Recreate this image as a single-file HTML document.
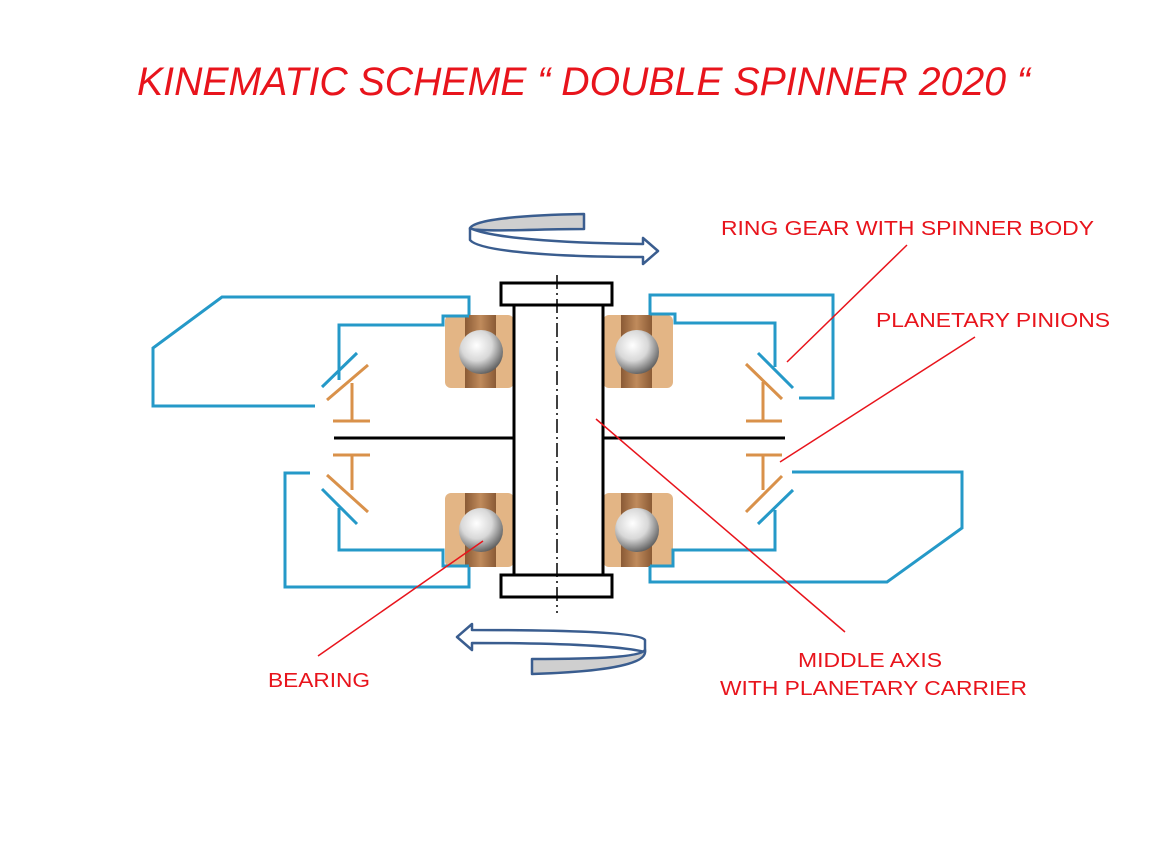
<!DOCTYPE html>
<html><head><meta charset="utf-8"><style>
html,body{margin:0;padding:0;background:#fff;}
svg{display:block;}
text{font-family:"Liberation Sans",sans-serif;fill:#e8141c;}
</style></head><body>
<svg width="1161" height="842" viewBox="0 0 1161 842" xmlns="http://www.w3.org/2000/svg">
<defs>
<radialGradient id="ball" cx="0.4" cy="0.35" r="0.7">
<stop offset="0" stop-color="#ffffff"/><stop offset="0.5" stop-color="#d8d8d8"/><stop offset="1" stop-color="#555"/>
</radialGradient>
<linearGradient id="band" x1="0" x2="1" y1="0" y2="0">
<stop offset="0" stop-color="#8a5a35"/><stop offset="0.5" stop-color="#c08b5c"/><stop offset="1" stop-color="#8a5a35"/>
</linearGradient>
</defs>
<text x="137" y="95" font-size="40" font-style="italic" textLength="893" lengthAdjust="spacingAndGlyphs">KINEMATIC SCHEME “ DOUBLE SPINNER 2020 “</text>

<g>
<rect x="445" y="315" width="69" height="73" rx="6" fill="#e3b585"/>
<rect x="465" y="315" width="31" height="73" fill="url(#band)"/>
<circle cx="481" cy="352" r="22" fill="url(#ball)"/>
<rect x="445" y="493" width="69" height="74" rx="6" fill="#e3b585"/>
<rect x="465" y="493" width="31" height="74" fill="url(#band)"/>
<circle cx="481" cy="530" r="22" fill="url(#ball)"/>
<rect x="603" y="315" width="70" height="73" rx="6" fill="#e3b585"/>
<rect x="621" y="315" width="31" height="73" fill="url(#band)"/>
<circle cx="637" cy="352" r="22" fill="url(#ball)"/>
<rect x="603" y="493" width="70" height="74" rx="6" fill="#e3b585"/>
<rect x="621" y="493" width="31" height="74" fill="url(#band)"/>
<circle cx="637" cy="530" r="22" fill="url(#ball)"/>
</g>

<g fill="none" stroke="#2599c8" stroke-width="3">
<polyline points="315,406 153,406 153,348 222,297 469,297 469,315"/>
<polyline points="339,380 339,325 443,325 443,316 469,316"/>
<polyline points="310,473 285,473 285,587 469,587 469,567"/>
<polyline points="339,508 339,550 443,550 443,566 469,566"/>
<line x1="322" y1="387" x2="357" y2="353"/>
<line x1="322" y1="489" x2="357" y2="524"/>
<polyline points="650,315 650,295 833,295 833,398 799,398"/>
<polyline points="775,367 775,323 675,323 675,314 650,314"/>
<polyline points="792,472 962,472 962,528 887,582 650,582 650,566"/>
<polyline points="775,510 775,550 673,550 673,566 650,566"/>
<line x1="758" y1="353" x2="793" y2="388"/>
<line x1="758" y1="524" x2="793" y2="490"/>
</g>

<g fill="none" stroke="#d9914a" stroke-width="3">
<line x1="327" y1="400" x2="368" y2="365"/>
<line x1="352" y1="383" x2="352" y2="421"/>
<line x1="333" y1="421" x2="370" y2="421"/>
<line x1="333" y1="455" x2="370" y2="455"/>
<line x1="352" y1="455" x2="352" y2="490"/>
<line x1="327" y1="475" x2="368" y2="512"/>
<line x1="746" y1="364" x2="782" y2="399"/>
<line x1="763" y1="382" x2="763" y2="421"/>
<line x1="746" y1="421" x2="782" y2="421"/>
<line x1="746" y1="455" x2="782" y2="455"/>
<line x1="763" y1="455" x2="763" y2="490"/>
<line x1="746" y1="512" x2="782" y2="476"/>
</g>

<g stroke="#000" stroke-width="3" fill="#fff">
<line x1="334" y1="438" x2="514" y2="438"/>
<line x1="603" y1="438" x2="785" y2="438"/>
<rect x="514" y="305" width="89" height="270"/>
<rect x="501" y="283" width="111" height="22"/>
<rect x="501" y="575" width="111" height="22"/>
</g>
<line x1="557" y1="275" x2="557" y2="613" stroke="#000" stroke-width="1.5" stroke-dasharray="14,4,2,4"/>

<g stroke="#3a5d8f" stroke-width="2.5" stroke-linejoin="round">
<path d="M584,214 C520,215 470,220 470,229 C490,232 540,229 584,229 Z" fill="#cfcfcf"/>
<path d="M470,228 L470,240 C480,252 560,257 643,257 L643,264 L658,251 L643,238 L643,244 C560,243 490,238 470,228 Z" fill="#fff"/>
<path d="M645,640 C640,632 560,630 472,630 L472,624 L457,637 L472,650 L472,643 C560,643 620,646 645,652 Z" fill="#fff"/>
<path d="M645,650 C640,657 600,659 532,659 L532,674 C600,672 645,665 645,652 Z" fill="#cfcfcf"/>
</g>

<g stroke="#e8141c" stroke-width="1.5">
<line x1="907" y1="245" x2="787" y2="362"/>
<line x1="975" y1="337" x2="780" y2="462"/>
<line x1="596" y1="419" x2="845" y2="632"/>
<line x1="483" y1="541" x2="318" y2="656"/>
</g>
<g font-size="20">
<text x="721" y="235" textLength="373" lengthAdjust="spacingAndGlyphs">RING GEAR WITH SPINNER BODY</text>
<text x="876" y="327" textLength="234" lengthAdjust="spacingAndGlyphs">PLANETARY PINIONS</text>
<text x="268" y="687" textLength="102" lengthAdjust="spacingAndGlyphs">BEARING</text>
<text x="798" y="667" textLength="144" lengthAdjust="spacingAndGlyphs">MIDDLE AXIS</text>
<text x="720" y="695" textLength="307" lengthAdjust="spacingAndGlyphs">WITH PLANETARY CARRIER</text>
</g>
</svg>
</body></html>
